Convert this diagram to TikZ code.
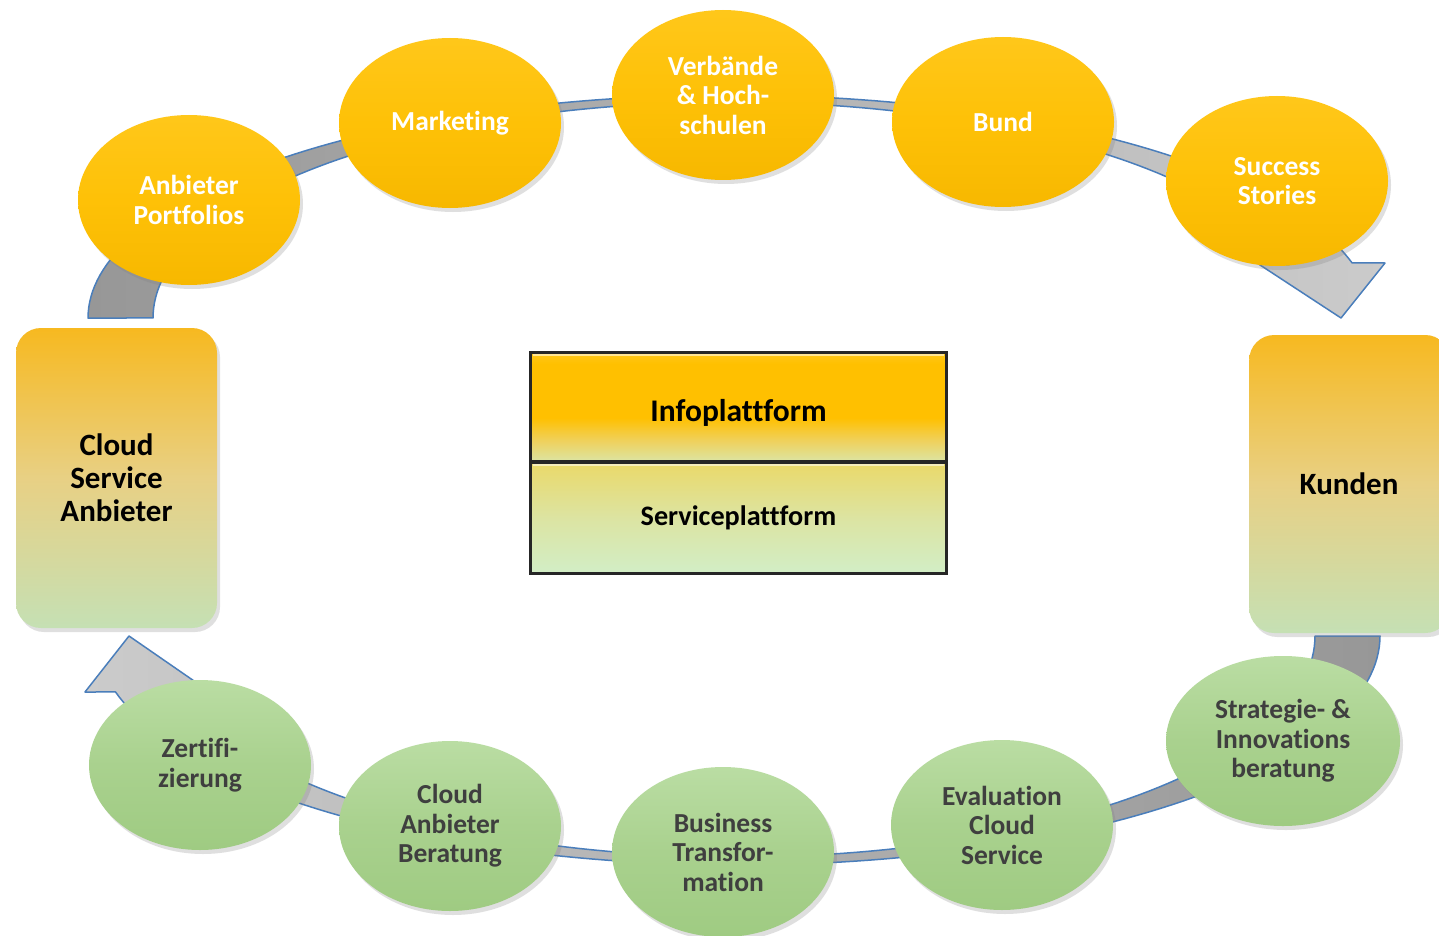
\documentclass[tikz,border=0pt]{standalone}
\usepackage{fontspec}
\setmainfont[Ligatures=NoCommon]{Carlito}
\usetikzlibrary{shapes.geometric,shadows}
\definecolor{gold}{HTML}{FFC000}
\definecolor{yTop}{HTML}{FFC71A}
\definecolor{yMid}{HTML}{FEC107}
\definecolor{yBot}{HTML}{F7B800}
\definecolor{gTop}{HTML}{BADDA3}
\definecolor{gMid}{HTML}{A9D18E}
\definecolor{gBot}{HTML}{9FCB82}
\definecolor{gText}{HTML}{3F3F3F}
\definecolor{bandBlue}{HTML}{4A7EBB}
\definecolor{bandDark}{HTML}{979797}
\definecolor{bandLight}{HTML}{CBCBCB}
\definecolor{boxTop}{HTML}{F7B920}
\definecolor{boxMid}{HTML}{E8D084}
\definecolor{boxBot}{HTML}{C5E0B4}
\definecolor{infoBot}{HTML}{DCE4A2}
\definecolor{infoMid}{HTML}{F0D058}
\definecolor{servTop}{HTML}{EAD96A}
\definecolor{servMid}{HTML}{DCE4A2}
\definecolor{servBot}{HTML}{D2EEC6}
\pgfdeclareverticalshading{infoshade}{100bp}{color(0bp)=(infoBot); color(25bp)=(infoBot); color(35bp)=(infoMid); color(45bp)=(gold); color(70bp)=(gold); color(75bp)=(yTop); color(100bp)=(yTop)}
\begin{document}
\begin{tikzpicture}[x=1pt,y=-1pt,
  band/.style={draw=bandBlue, line width=1.5pt, line join=round},
  yell/.style={ellipse, minimum width=222pt, minimum height=170pt, inner sep=0pt,
    top color=yTop, bottom color=yBot, middle color=yMid, text=white, align=center,
    font=\bfseries\fontsize{27.5}{29.5}\selectfont,
    drop shadow={opacity=0.25, shadow xshift=3pt, shadow yshift=-4pt}},
  gren/.style={ellipse, minimum width=222pt, minimum height=170pt, inner sep=0pt,
    top color=gTop, bottom color=gBot, middle color=gMid, text=gText, align=center,
    font=\bfseries\fontsize{27.5}{29.5}\selectfont,
    drop shadow={opacity=0.25, shadow xshift=3pt, shadow yshift=-4pt}},
  sidebox/.style={rectangle, rounded corners=25pt, inner sep=0pt,
    top color=boxTop, bottom color=boxBot, middle color=boxMid, text=black, align=center,
    font=\bfseries\fontsize{31}{33}\selectfont,
    drop shadow={opacity=0.25, shadow xshift=3pt, shadow yshift=-4pt}},
  platbox/.style={rectangle, draw=black!85, line width=2pt, inner sep=0pt,
    minimum width=415pt, text=black, font=\bfseries},
  bevel/.style={white, opacity=0.55, line width=2pt}
]
\useasboundingbox (0,0) rectangle (1439,936);
\fill[white] (0,0) rectangle (1439,936);

% upper ring arrow
\path[band, left color=bandDark, right color=bandLight]
  plot[domain=180:345.7,samples=120] ({730+642*cos(\x)},{318+223*sin(\x)})
  -- (1385,263) -- (1341,318) -- (1257,263)
  -- plot[domain=345.7:180,samples=120] ({730+577*cos(\x)},{318+216*sin(\x)})
  -- cycle;
% lower ring arrow
\path[band, right color=bandDark, left color=bandLight]
  plot[domain=0:165.85,samples=120] ({738+642*cos(\x)},{636+229*sin(\x)})
  -- (85,692) -- (129,636) -- (210,692)
  -- plot[domain=165.85:0,samples=120] ({738+577*cos(\x)},{636+221*sin(\x)})
  -- cycle;

% side boxes
\node[sidebox, minimum width=201pt, minimum height=300pt] (csa) at (116.5,478) {Cloud\\Service\\Anbieter};
\node[sidebox, minimum width=201pt, minimum height=298pt, anchor=west] (kunden) at (1249,484) {};
\node[font=\bfseries\fontsize{31}{33}\selectfont] (kundentext) at (1349,484) {Kunden};

% top ellipses
\node[yell] (portfolios) at (189,200) {Anbieter\\Portfolios};
\node[yell] (marketing) at (450,123) {Marketing};
\node[yell] (verbaende) at (723,95) {Verbände\\\& Hoch-\\schulen};
\node[yell] (bund) at (1003,122) {Bund};
\node[yell] (success) at (1277,181) {Success\\Stories};

% bottom ellipses
\node[gren, minimum width=234pt] (strategie) at (1283,741) {Strategie- \&\\Innovations\\beratung};
\node[gren] (evaluation) at (1002,825) {Evaluation\\Cloud\\Service};
\node[gren] (business) at (723,852) {Business\\Transfor-\\mation};
\node[gren] (beratung) at (450,826) {Cloud\\Anbieter\\Beratung};
\node[gren] (zert) at (200,765) {Zertifi-\\zierung};

% central platform
\node[platbox, minimum height=108pt, shading=infoshade,
  drop shadow={opacity=0.2, shadow xshift=2pt, shadow yshift=-3pt}] (info) at (738.5,407) {};
\node[font=\bfseries\fontsize{31.5}{33}\selectfont] (infotext) at (738.5,412.5) {Infoplattform};
\node[platbox, minimum height=110pt, top color=servTop, bottom color=servBot, middle color=servMid,
  font=\bfseries\fontsize{28.2}{30}\selectfont, anchor=north] (service) at (info.south) {Serviceplattform};
\draw[bevel] ([xshift=3pt,yshift=-3pt]info.north west) -- ([xshift=-3pt,yshift=-3pt]info.north east);
\draw[bevel] ([xshift=3pt,yshift=-3pt]service.north west) -- ([xshift=-3pt,yshift=-3pt]service.north east);
\draw[black!85, line width=2pt] (info.north west) rectangle (service.south east);
\draw[black!85, line width=2pt] (info.south west) -- (info.south east);
\end{tikzpicture}
\end{document}
